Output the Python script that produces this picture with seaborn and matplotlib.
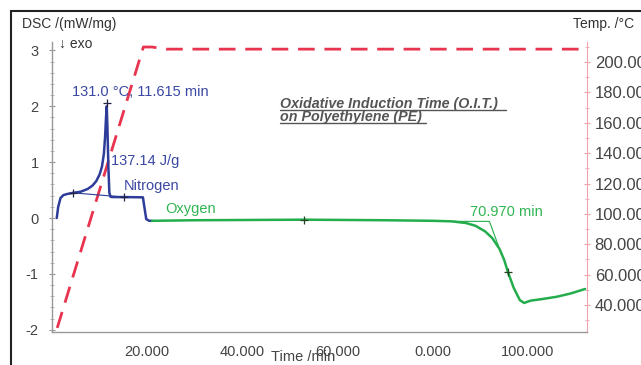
import numpy as np
import pandas as pd
import matplotlib
matplotlib.use("Agg")
import matplotlib.pyplot as plt
from matplotlib.patches import Rectangle
import seaborn as sns

# ---------------- data ----------------
time_temp = [1.1, 19.2, 21.0, 24.0, 112.4]
temp_c = [24.9, 209.9, 209.9, 208.5, 208.5]

n2_time = [1.0, 1.3, 1.8, 2.4, 3.2, 4.4, 6.0, 7.5, 8.5, 9.3, 10.0, 10.5, 10.9,
           11.15, 11.35, 11.5, 11.65, 11.85, 12.05, 12.3, 12.8, 15.2, 19.1,
           19.4, 19.8, 20.4, 21.0]
n2_dsc = [0.0, 0.2, 0.36, 0.41, 0.43, 0.45, 0.47, 0.52, 0.58, 0.66, 0.78, 0.92,
          1.15, 1.45, 1.8, 2.0, 1.6, 0.9, 0.45, 0.38, 0.375, 0.375, 0.37,
          0.2, -0.02, -0.05, -0.05]

o2_time = [21.0, 30.0, 53.0, 70.0, 80.0, 84.0, 87.0, 89.0, 91.0, 92.5, 94.0,
           95.0, 95.8, 97.0, 98.3, 99.2, 100.5, 103.0, 106.0, 109.0, 112.0]
o2_dsc = [-0.05, -0.04, -0.03, -0.04, -0.05, -0.06, -0.09, -0.14, -0.24, -0.36,
          -0.55, -0.75, -0.97, -1.25, -1.47, -1.52, -1.48, -1.45, -1.41, -1.35,
          -1.27]

base_time = [4.4, 15.2]
base_dsc = [0.45, 0.375]
n2_mark_time = [4.4, 15.2, 11.5]
n2_mark_dsc = [0.45, 0.375, 2.05]
o2_mark_time = [53.0, 95.8]
o2_mark_dsc = [-0.03, -0.97]
onset_time = [84.0, 91.9, 93.8]
onset_dsc = [-0.06, -0.06, -0.5]

x_ticks = [20, 40, 60, 80, 100]
x_tick_labels = ["20.000", "40.000", "60.000", "0.000", "100.000"]
dsc_ticks = [-2, -1, 0, 1, 2, 3]
temp_ticks = [40, 60, 80, 100, 120, 140, 160, 180, 200]

BLUE = "#2e3c9a"
BLUE_TXT = "#3b48a3"
GREEN = "#23ad4c"
GREEN_TXT = "#2fb552"
RED = "#e8344f"
GRAY = "#444444"

sns.set_style("white")
plt.rcParams["font.family"] = ["Liberation Sans", "DejaVu Sans"]
plt.rcParams["axes.unicode_minus"] = False

W, H = 641, 365
fig = plt.figure(figsize=(W / 100, H / 100), dpi=100)
L, R, T, B = 52, 587, 42, 332
ax = fig.add_axes([L / W, 1 - B / H, (R - L) / W, (B - T) / H])
ax2 = ax.twinx()

def px(x, y):
    return x / W, 1 - y / H

# temperature (right axis)
df_t = pd.DataFrame({"t": time_temp, "T": temp_c})
sns.lineplot(data=df_t, x="t", y="T", ax=ax2, color=RED, lw=2.0,
             estimator=None, sort=False)
ax2.lines[-1].set_dashes([6, 3.5])

# DSC curves
df_n2 = pd.DataFrame({"t": n2_time, "dsc": n2_dsc})
df_o2 = pd.DataFrame({"t": o2_time, "dsc": o2_dsc})
sns.lineplot(data=df_n2, x="t", y="dsc", ax=ax, color=BLUE, lw=1.8,
             estimator=None, sort=False)
sns.lineplot(data=df_o2, x="t", y="dsc", ax=ax, color=GREEN, lw=1.8,
             estimator=None, sort=False)
ax.plot(base_time, base_dsc, color=BLUE, lw=0.8)
ax.plot(onset_time, onset_dsc, color=GREEN, lw=0.8)
ax.plot(n2_mark_time, n2_mark_dsc, ls="none", marker="+", ms=6, mew=0.9, color="#222244")
ax.plot(o2_mark_time, o2_mark_dsc, ls="none", marker="+", ms=6, mew=0.9, color="#224422")

ax.set_xlim(0, 112.4)
ax.set_ylim(-2.04, 3.15)
ax2.set_ylim(22.2, 213.2)
ax.set_zorder(ax2.get_zorder() + 1)
ax.patch.set_visible(False)

ax.set_xticks(x_ticks)
ax.set_xticklabels(x_tick_labels)
ax.set_xticks(np.arange(10, 112, 10), minor=True)
ax.set_yticks(dsc_ticks)
ax.set_yticks(np.arange(-2, 3.01, 0.2), minor=True)
ax2.set_yticks(temp_ticks)
ax2.set_yticklabels([f"{v:.3f}" for v in temp_ticks])
ax2.set_yticks(np.arange(30, 211, 10), minor=True)

ax.set_xlabel("")
ax.set_ylabel("")
ax2.set_ylabel("")

for a in (ax, ax2):
    a.spines["top"].set_visible(False)
ax.spines["right"].set_visible(False)
ax2.spines["left"].set_visible(False)
ax2.spines["bottom"].set_visible(False)
ax.spines["left"].set_color("#999999")
ax.spines["bottom"].set_color("#999999")
ax2.spines["right"].set_color("#f0a3ad")
for s in ("left", "bottom"):
    ax.spines[s].set_linewidth(1.0)

ax.tick_params(axis="both", which="major", direction="inout", length=5, width=0.8,
               color="#999999", labelsize=10.5, labelcolor=GRAY, pad=5)
ax.tick_params(axis="both", which="minor", direction="inout", length=3, width=0.6,
               color="#aaaaaa")
ax.tick_params(axis="x", which="major", pad=7)
ax.tick_params(axis="y", which="major", pad=7)
ax2.tick_params(axis="y", which="major", direction="inout", length=5, width=0.8,
                color="#f0a3ad", labelsize=12, labelcolor=GRAY, pad=3)
ax2.tick_params(axis="y", which="minor", direction="inout", length=3, width=0.6,
                color="#f0a3ad")
ax.grid(False)
ax2.grid(False)

# texts
fig.text(*px(22, 24), "DSC /(mW/mg)", fontsize=10, color="#333333", va="center", ha="left")
fig.text(*px(59, 44), "↓ exo", fontsize=10, color="#333333", va="center", ha="left")
fig.text(*px(634, 24), "Temp. /°C", fontsize=10, color="#333333", va="center", ha="right")
fig.text(*px(72, 92), "131.0 °C, 11.615 min", fontsize=10.5, color=BLUE_TXT, va="center", ha="left")
fig.text(*px(111, 161), "137.14 J/g", fontsize=10.5, color=BLUE_TXT, va="center", ha="left")
fig.text(*px(124, 186), "Nitrogen", fontsize=10.5, color=BLUE_TXT, va="center", ha="left")
fig.text(*px(165, 209), "Oxygen", fontsize=10.5, color=GREEN_TXT, va="center", ha="left")
fig.text(*px(470, 212), "70.970 min", fontsize=10.5, color=GREEN_TXT, va="center", ha="left")
fig.text(*px(280, 108), "Oxidative Induction Time (O.I.T.)", fontsize=10.3, color="#555555",
         va="baseline", ha="left", fontweight="bold", fontstyle="italic")
fig.text(*px(280, 121), "on Polyethylene (PE)", fontsize=10.3, color="#555555",
         va="baseline", ha="left", fontweight="bold", fontstyle="italic")
fig.add_artist(plt.Line2D([280 / W, 506 / W], [1 - 109.5 / H] * 2, color="#555555", lw=1.0))
fig.add_artist(plt.Line2D([280 / W, 426 / W], [1 - 123 / H] * 2, color="#555555", lw=1.0))
fig.text(*px(303, 357), "Time /min", fontsize=10.5, color=GRAY, va="center", ha="center")

# outer frame
fig.add_artist(Rectangle((11 / W, -0.2), 1.2, 1.2 - 11 / H, transform=fig.transFigure,
                         fill=False, edgecolor="#222222", lw=1.5, clip_on=False))

fig.savefig("out.png", dpi=100)
